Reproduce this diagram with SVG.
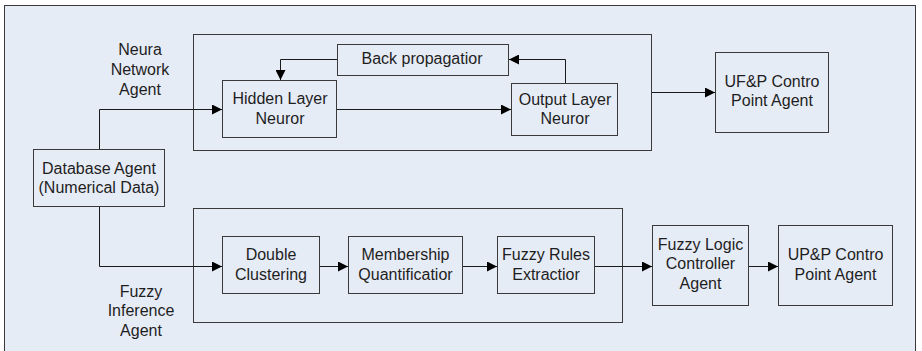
<svg xmlns="http://www.w3.org/2000/svg" width="922" height="351" viewBox="0 0 922 351">
<defs>
<style>
.box{fill:none;stroke:#3a3a3a;stroke-width:1}
.cont{fill:none;stroke:#3a3a3a;stroke-width:1}
.ln{fill:none;stroke:#1a1a1a;stroke-width:1}
text{font-family:"Liberation Sans",Arial,sans-serif;font-size:16px;fill:#1e1e1e;text-anchor:middle}
</style>
<marker id="arr" markerUnits="userSpaceOnUse" markerWidth="10" markerHeight="10" refX="10" refY="5" orient="auto">
<path d="M0,0 L10,5 L0,10 z" fill="#000"/>
</marker>
</defs>
<rect x="0" y="0" width="922" height="351" fill="#ffffff"/>
<rect x="4.5" y="5.5" width="911" height="350" fill="#e6ecf6" stroke="#3a3a3a" stroke-width="1"/>

<g id="nn-container">
<rect class="cont" x="193.5" y="34.5" width="458" height="116"/>
</g>
<g id="nn-label">
<text x="140" y="55">Neura</text>
<text x="140" y="75">Network</text>
<text x="140" y="95">Agent</text>
</g>
<g id="backprop">
<rect class="box" x="337.5" y="44.5" width="171" height="31"/>
<text x="422" y="64">Back propagatior</text>
</g>
<g id="hidden">
<rect class="box" x="222.5" y="80.5" width="114" height="57"/>
<text x="280" y="104">Hidden Layer</text>
<text x="280" y="124">Neuror</text>
</g>
<g id="output">
<rect class="box" x="511.5" y="83.5" width="106" height="52"/>
<text x="565" y="105">Output Layer</text>
<text x="565" y="124">Neuror</text>
</g>
<g id="ufp">
<rect class="box" x="715.5" y="52.5" width="113" height="80"/>
<text x="772" y="87">UF&amp;P Contro</text>
<text x="772" y="106">Point Agent</text>
</g>
<g id="database">
<rect class="box" x="33.5" y="149.5" width="131" height="57"/>
<text x="99" y="174">Database Agent</text>
<text x="99" y="193">(Numerical Data)</text>
</g>

<g id="fi-container">
<rect class="cont" x="193.5" y="208.5" width="429" height="114"/>
</g>
<g id="fi-label">
<text x="141" y="297">Fuzzy</text>
<text x="141" y="316">Inference</text>
<text x="141" y="336">Agent</text>
</g>
<g id="double">
<rect class="box" x="222.5" y="236.5" width="97" height="57"/>
<text x="271" y="260">Double</text>
<text x="271" y="280">Clustering</text>
</g>
<g id="membership">
<rect class="box" x="348.5" y="236.5" width="114" height="57"/>
<text x="405.5" y="260">Membership</text>
<text x="405.5" y="280">Quantificatior</text>
</g>
<g id="rules">
<rect class="box" x="497.5" y="236.5" width="97" height="57"/>
<text x="546" y="260">Fuzzy Rules</text>
<text x="546" y="280">Extractior</text>
</g>
<g id="flc">
<rect class="box" x="652.5" y="225.5" width="96" height="80"/>
<text x="700.5" y="250">Fuzzy Logic</text>
<text x="700.5" y="269">Controller</text>
<text x="700.5" y="289">Agent</text>
</g>
<g id="upp">
<rect class="box" x="778.5" y="225.5" width="114" height="80"/>
<text x="835.5" y="260">UP&amp;P Contro</text>
<text x="835.5" y="280">Point Agent</text>
</g>

<g id="connectors">
<path class="ln" d="M99.5,149 V109.5 H222" marker-end="url(#arr)"/>
<path class="ln" d="M337,109.5 H511" marker-end="url(#arr)"/>
<path class="ln" d="M565.5,83 V59.5 H509" marker-end="url(#arr)"/>
<path class="ln" d="M337,59.5 H280.5 V80" marker-end="url(#arr)"/>
<path class="ln" d="M652,92.5 H715" marker-end="url(#arr)"/>
<path class="ln" d="M99.5,207 V266.5 H222" marker-end="url(#arr)"/>
<path class="ln" d="M320,266.5 H348" marker-end="url(#arr)"/>
<path class="ln" d="M463,266.5 H497" marker-end="url(#arr)"/>
<path class="ln" d="M595,266.5 H652" marker-end="url(#arr)"/>
<path class="ln" d="M749,266.5 H778" marker-end="url(#arr)"/>
</g>
</svg>
